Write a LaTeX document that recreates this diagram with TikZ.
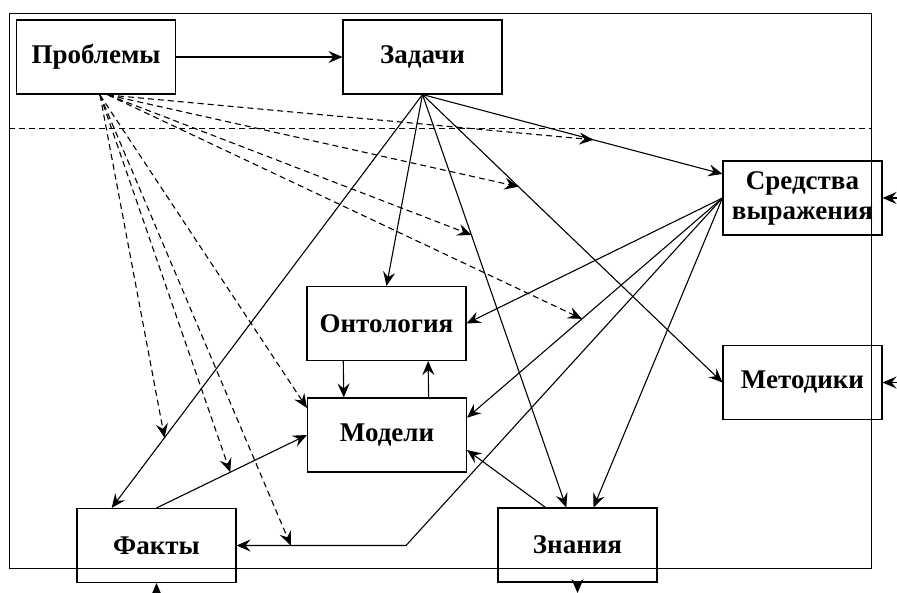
\documentclass[tikz,border=0pt]{standalone}
\usepackage{fontspec}
\setmainfont{Liberation Serif}
\usetikzlibrary{arrows.meta,calc}

\begin{document}
\begin{tikzpicture}[x=1pt,y=-1pt,
  box/.style={rectangle,draw,line width=1.1pt,minimum width=159pt,minimum height=74pt,
    inner sep=0pt,align=center,font=\fontsize{27}{30}\selectfont\bfseries},
  conn/.style={-{Stealth[length=14pt,width=12pt,inset=5pt]},line width=1.1pt},
  hint/.style={conn,dash pattern=on 6pt off 4pt}]
\useasboundingbox (0,0) rectangle (897,592);
\draw[line width=1pt] (9,13) rectangle (871,568);
\draw[line width=1pt,dash pattern=on 6pt off 4pt] (9,128) -- (871,128);
\node (prob) at (96,57) [box] {Проблемы};
\node (zad) at (422.5,57) [box] {Задачи};
\node (sred) at (802.5,198) [box] {Средства\\выражения};
\node (met) at (802.5,382.5) [box] {Методики};
\node (ont) at (386.5,323.5) [box] {Онтология};
\node (mod) at (387,435) [box] {Модели};
\node (fakt) at (156.5,545.5) [box] {Факты};
\node (znan) at (577.5,545) [box] {Знания};
\coordinate (bend) at (406,545.5);
\coordinate (ps1) at (100,95);
\coordinate (ps2) at (108,95);
\coordinate (inS) at (897,198);
\coordinate (inM) at (897,382.5);
\coordinate (inF) at (156.5,592);
\coordinate (outZ) at (577.5,593);
\draw[conn] (prob) -- (zad);
\draw[conn] (zad.south) -- ($(sred.north west)!0.18!(sred.south west)$) coordinate[pos=0.57] (h1);
\draw[conn] (zad.south) -- (met.west) coordinate[pos=0.32] (h2);
\draw[conn] (zad.south) -- ($(znan.north west)!0.43!(znan.north east)$) coordinate[pos=0.34] (h3);
\draw[conn] (zad.south) -- (ont.north);
\draw[conn] (zad.south) -- ($(fakt.north west)!0.22!(fakt.north east)$) coordinate[pos=0.83] (h5);
\draw[conn] (sred.west) -- (ont.east);
\draw[conn] (sred.west) -- ($(mod.north east)!0.27!(mod.south east)$) coordinate[pos=0.55] (h4);
\draw[conn] (sred.west) -- ($(znan.north west)!0.6!(znan.north east)$);
\draw[conn] (sred.west) -- (bend) -- (fakt.east) coordinate[pos=0.68] (h7);
\draw[conn] ($(znan.north west)!0.3!(znan.north east)$) -- ($(mod.north east)!0.7!(mod.south east)$);
\draw[conn] (fakt.north) -- (mod.west) coordinate[pos=0.49] (h6);
\draw[conn] ($(ont.south west)!0.23!(ont.south east)$) -- ($(mod.north west)!0.23!(mod.north east)$);
\draw[conn] ($(mod.north west)!0.76!(mod.north east)$) -- ($(ont.south west)!0.76!(ont.south east)$);
\draw[conn] (inS) -- (sred.east);
\draw[conn] (inM) -- (met.east);
\draw[conn] (inF) -- (fakt.south);
\draw[conn] (znan.south) -- (outZ);
\draw[hint] (ps2) -- (h1);
\draw[hint] (ps2) -- (h2);
\draw[hint] (ps2) -- (h3);
\draw[hint] (ps2) -- (h4);
\draw[hint] (ps1) -- (h5);
\draw[hint] (ps1) -- (h6);
\draw[hint] (ps1) -- (h7);
\draw[hint] (ps1) -- ($(mod.north west)!0.14!(mod.south west)$);
\end{tikzpicture}
\end{document}
